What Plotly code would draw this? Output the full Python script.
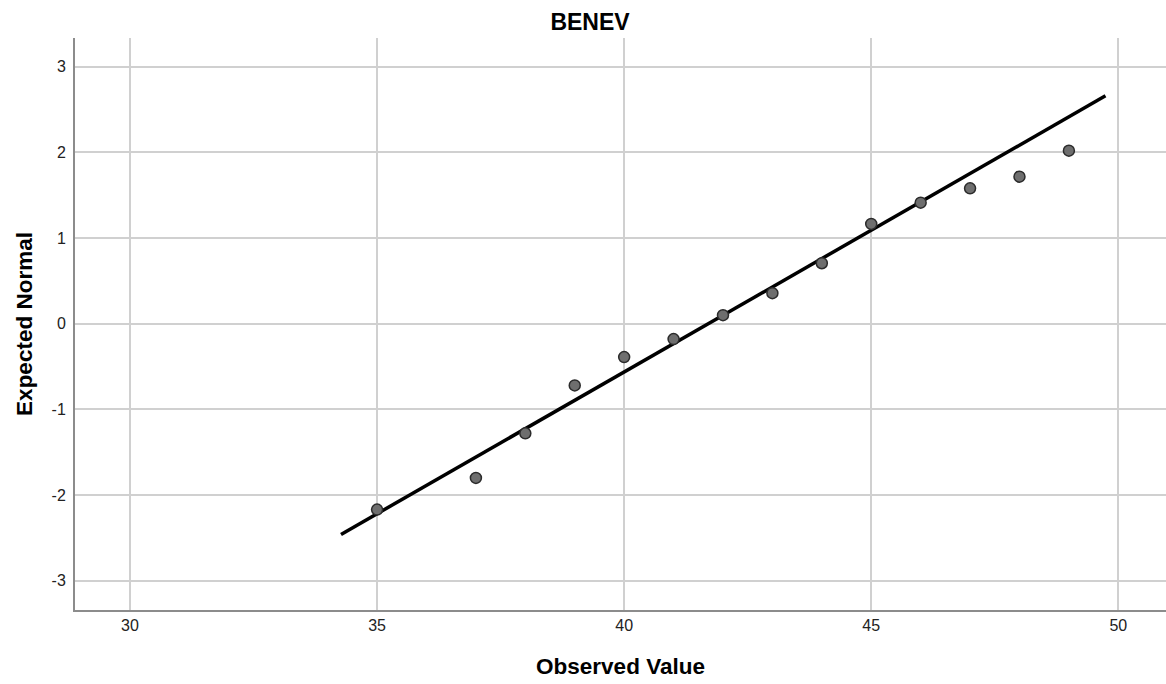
import plotly.graph_objects as go

# Data
observed = [35, 37, 38, 39, 40, 41, 42, 43, 44, 45, 46, 47, 48, 49]
expected = [-2.17, -1.80, -1.28, -0.72, -0.39, -0.18, 0.10, 0.356, 0.706, 1.165, 1.413, 1.58, 1.716, 2.02]
line_x = [34.27, 49.74]
line_y = [-2.46, 2.66]
x_ticks = [30, 35, 40, 45, 50]
y_ticks = [-3, -2, -1, 0, 1, 2, 3]
y_tick_labels = ["-3", "-2", "-1", "0", "1", "2", "3"]

FONT = "Liberation Sans, Arial, sans-serif"

fig = go.Figure()
fig.add_trace(go.Scatter(
    x=line_x, y=line_y, mode="lines",
    line=dict(color="#000000", width=3.5),
    showlegend=False, hoverinfo="skip"))
fig.add_trace(go.Scatter(
    x=observed, y=expected, mode="markers",
    marker=dict(size=11, color="#6e6e6e", line=dict(color="#2b2b2b", width=1.5)),
    showlegend=False))

fig.update_layout(
    width=1166, height=684,
    margin=dict(l=75, r=0, t=38, b=74),
    plot_bgcolor="white", paper_bgcolor="white",
    font=dict(family=FONT, color="#000000"),
    title=dict(text="BENEV", x=590/1166, xanchor="center", xref="container",
               y=1-22/684, yanchor="middle", yref="container",
               font=dict(family=FONT, size=23, weight="bold", color="#000000")),
    xaxis=dict(range=[28.887, 50.965], tickvals=x_ticks, showgrid=True,
               gridcolor="#d0d0d0", gridwidth=1.5, zeroline=False,
               showline=True, linecolor="#8c8c8c", linewidth=2,
               ticks="", tickfont=dict(size=16, family=FONT, color="#222"),
               title=dict(text="Observed Value", standoff=25,
                          font=dict(size=22.5, weight="bold", family=FONT))),
    yaxis=dict(range=[-3.342, 3.335], tickvals=y_ticks, ticktext=y_tick_labels,
               showgrid=True, gridcolor="#d0d0d0", gridwidth=1.5, zeroline=False,
               showline=True, linecolor="#8c8c8c", linewidth=2,
               ticks="", ticklabelstandoff=4,
               tickfont=dict(size=16, family=FONT, color="#222"),
               title=dict(text="Expected Normal", standoff=13,
                          font=dict(size=22.5, weight="bold", family=FONT))),
)

fig.write_html("out.html")
